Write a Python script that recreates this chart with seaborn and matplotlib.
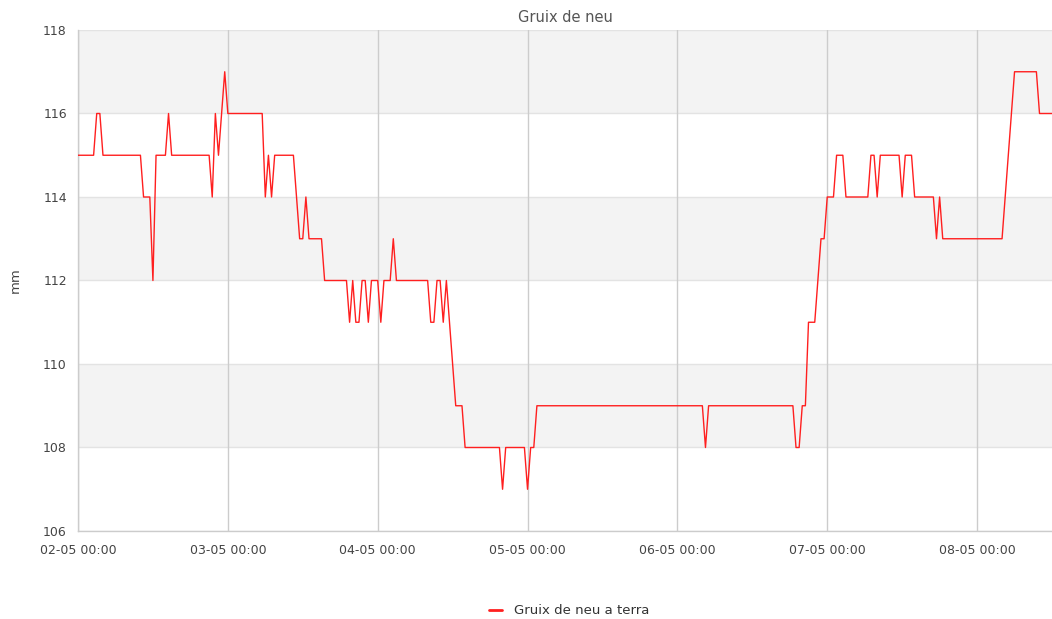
import matplotlib
matplotlib.use("Agg")
import matplotlib.pyplot as plt
import matplotlib.dates as mdates
import numpy as np
import pandas as pd
import seaborn as sns

# ===== Data (half-hourly readings, mm) =====
start_time = "2024-05-02 00:00"
sample_freq = "30min"
snow_depth = [
    115, 115, 115, 115, 115, 115, 116, 116, 115, 115, 115, 115, 115, 115, 115, 115, 115, 115, 115, 115, 115, 114, 114, 114,
    112, 115, 115, 115, 115, 116, 115, 115, 115, 115, 115, 115, 115, 115, 115, 115, 115, 115, 115, 114, 116, 115, 116, 117,
    116, 116, 116, 116, 116, 116, 116, 116, 116, 116, 116, 116, 114, 115, 114, 115, 115, 115, 115, 115, 115, 115, 114, 113,
    113, 114, 113, 113, 113, 113, 113, 112, 112, 112, 112, 112, 112, 112, 112, 111, 112, 111, 111, 112, 112, 111, 112, 112,
    112, 111, 112, 112, 112, 113, 112, 112, 112, 112, 112, 112, 112, 112, 112, 112, 112, 111, 111, 112, 112, 111, 112, 111,
    110, 109, 109, 109, 108, 108, 108, 108, 108, 108, 108, 108, 108, 108, 108, 108, 107, 108, 108, 108, 108, 108, 108, 108,
    107, 108, 108, 109, 109, 109, 109, 109, 109, 109, 109, 109, 109, 109, 109, 109, 109, 109, 109, 109, 109, 109, 109, 109,
    109, 109, 109, 109, 109, 109, 109, 109, 109, 109, 109, 109, 109, 109, 109, 109, 109, 109, 109, 109, 109, 109, 109, 109,
    109, 109, 109, 109, 109, 109, 109, 109, 109, 108, 109, 109, 109, 109, 109, 109, 109, 109, 109, 109, 109, 109, 109, 109,
    109, 109, 109, 109, 109, 109, 109, 109, 109, 109, 109, 109, 109, 109, 108, 108, 109, 109, 111, 111, 111, 112, 113, 113,
    114, 114, 114, 115, 115, 115, 114, 114, 114, 114, 114, 114, 114, 114, 115, 115, 114, 115, 115, 115, 115, 115, 115, 115,
    114, 115, 115, 115, 114, 114, 114, 114, 114, 114, 114, 113, 114, 113, 113, 113, 113, 113, 113, 113, 113, 113, 113, 113,
    113, 113, 113, 113, 113, 113, 113, 113, 113, 114, 115, 116, 117, 117, 117, 117, 117, 117, 117, 117, 116, 116, 116, 116,
    116,
]
y_ticks = [106, 108, 110, 112, 114, 116, 118]
series_name = "Gruix de neu a terra"
title = "Gruix de neu"
y_label = "mm"

times = pd.date_range(start_time, periods=len(snow_depth), freq=sample_freq)
df = pd.DataFrame({"time": times, "gruix": snow_depth})
day_ticks = pd.date_range(times[0].normalize(), times[-1], freq="D")

# ===== Style =====
sns.set_theme(style="white")
plt.rcParams["font.family"] = ["DejaVu Sans"]

fig = plt.figure(figsize=(10.52, 6.19), dpi=100)
ax = fig.add_axes([78 / 1052, 88 / 619, 974 / 1052, 501 / 619])

# alternating bands
for i in range(len(y_ticks) - 1):
    if i % 2 == 1:
        ax.axhspan(y_ticks[i], y_ticks[i + 1], color="#f3f3f3", lw=0, zorder=0)
for yt in y_ticks:
    ax.axhline(yt, color="#e3e3e3", lw=1, zorder=1)
for d in day_ticks:
    ax.axvline(d, color="#cccccc", lw=1, zorder=1)

sns.lineplot(data=df, x="time", y="gruix", ax=ax, color="#ff1f1f", lw=1.0,
             label=series_name, legend=False, zorder=3)

ax.set_xlim(times[0], times[-1])
ax.set_ylim(y_ticks[0], y_ticks[-1])
ax.set_yticks(y_ticks)
ax.set_xticks(day_ticks)
ax.xaxis.set_major_formatter(mdates.DateFormatter("%d-%m %H:%M"))
ax.tick_params(axis="both", length=0, labelsize=9, labelcolor="#444444")
ax.tick_params(axis="x", pad=9)
ax.tick_params(axis="y", pad=8)
ax.set_xlabel("")
ax.set_ylabel(y_label, fontsize=9.5, color="#444444", labelpad=15)
ax.set_title(title, fontsize=10.5, color="#555555", pad=6)

for side in ["top", "right"]:
    ax.spines[side].set_visible(False)
for side in ["left", "bottom"]:
    ax.spines[side].set_color("#cccccc")
    ax.spines[side].set_linewidth(1)

handle = plt.Line2D([], [], color="#ff1f1f", lw=2)
fig.legend([handle], [series_name], loc="center", bbox_to_anchor=(0.541, 8 / 619),
           frameon=False, fontsize=9.5, handlelength=1.0, handletextpad=0.9,
           labelcolor="#333333")

fig.savefig("out.png", dpi=100)
